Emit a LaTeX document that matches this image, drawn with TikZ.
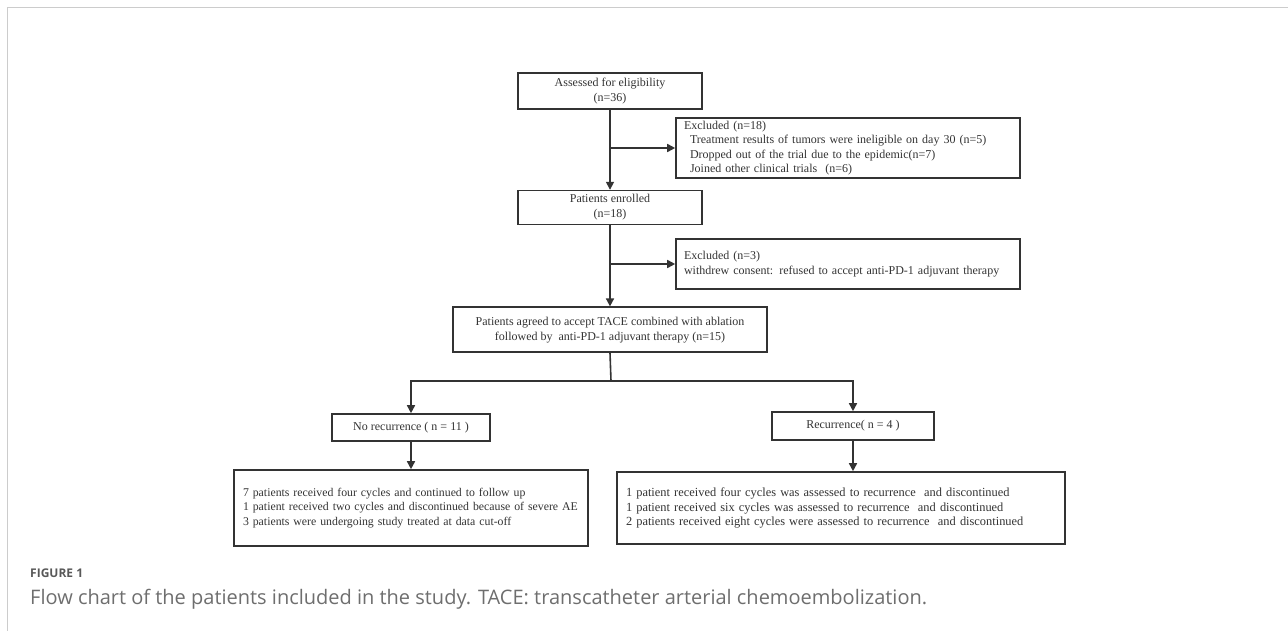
\documentclass[tikz,border=0pt]{standalone}
\usepackage{fontspec}
\setmainfont{Liberation Serif}
\newfontfamily\capfont{Open Sans}
\usetikzlibrary{positioning,arrows.meta}
\definecolor{ink}{HTML}{333333}
\definecolor{frame}{HTML}{CCCCCC}
\definecolor{captext}{HTML}{6E6E6E}

\begin{document}
\begin{tikzpicture}[x = 1pt, y = -1pt,
    box/.style = { draw = ink, line width = 1.6pt, text = ink, inner sep = 0pt,
      font = \fontsize{12}{15}\selectfont },
    sidebox/.style = { box, align = left, text width = 328pt },
    outbox/.style = { box, align = left },
    flow/.style = { draw = ink, line width = 1.6pt, -{Triangle[length = 8pt, width = 8pt]} }]
    \useasboundingbox (0,0) rectangle (1288,631);
    \draw[frame, line width = 1.5pt] (7.5,631) -- (7.5,7.5) -- (1288,7.5);

    \node[box, align = center, minimum width = 184pt, minimum height = 36pt] (assess) at (610,91)
      { Assessed for eligibility\\ (n=36) };
    \node[box, align = center, minimum width = 184pt, minimum height = 34pt, below = 80pt of assess] (enrol)
      { Patients enrolled\\ (n=18) };
    \node[box, align = center, minimum width = 314pt, minimum height = 45pt, below = 81pt of enrol] (agree)
      { Patients agreed to accept TACE combined with ablation\\ followed by\ \ anti-PD-1 adjuvant therapy (n=15) };

    \node[sidebox, minimum width = 344pt, minimum height = 60pt, font = \fontsize{12}{14.5}\selectfont] (excl1) at (848,148)
      { Excluded (n=18)\\
        \hspace*{6pt}Treatment results of tumors were ineligible on day 30 (n=5)\\
        \hspace*{6pt}Dropped out of the trial due to the epidemic(n=7)\\
        \hspace*{6pt}Joined other clinical trials\ \ (n=6) };
    \node[sidebox, minimum width = 344pt, minimum height = 50pt] (excl2) at (848,264)
      { Excluded (n=3)\\
        withdrew consent: refused to accept anti-PD-1 adjuvant therapy };

    \node[box, minimum width = 158pt, minimum height = 27pt] (norec) at (411,427.5) { No recurrence ( n = 11 ) };
    \node[box, minimum width = 162pt, minimum height = 28pt] (rec) at (853,426) { Recurrence( n = 4 ) };

    \node[outbox, text width = 336pt, minimum width = 354pt, minimum height = 76pt, font = \fontsize{11.8}{14.3}\selectfont] (out1) at (411,508)
      { 7 patients received four cycles and continued to follow up\\
        1 patient received two cycles and discontinued because of severe AE\\
        3 patients were undergoing study treated at data cut-off };
    \node[outbox, text width = 430pt, minimum width = 448pt, minimum height = 72pt, font = \fontsize{12.4}{14.5}\selectfont] (out2) at (841,508)
      { 1 patient received four cycles was assessed to recurrence\ \ and discontinued\\
        1 patient received six cycles was assessed to recurrence\ \ and discontinued\\
        2 patients received eight cycles were assessed to recurrence\ \ and discontinued };

    % connectors
    \draw[flow] (assess) -- (enrol);
    \draw[flow] (assess.south |- excl1.west) -- (excl1.west);
    \draw[flow] (enrol) -- (agree);
    \draw[flow] (enrol.south |- excl2.west) -- (excl2.west);
    \coordinate (split) at (611,381);
    \draw[draw = ink, line width = 1.6pt] (agree.south) -- (split);
    \draw[flow] (split) -| (norec.north);
    \draw[flow] (split) -| (rec.north);
    \draw[flow] (norec) -- (out1);
    \draw[flow] (rec.south) -- (rec.south |- out2.north);

    \node[anchor = base west, inner sep = 0pt, text = captext!80!black, font = \capfont\bfseries\fontsize{12}{14}\selectfont] (fig) at (30,577) {FIGURE 1};
    \node[anchor = base west, inner sep = 0pt, text = captext, font = \capfont\fontsize{20}{24}\selectfont] (caption) at (30,604)
      {Flow chart of the patients included in the study. TACE: transcatheter arterial chemoembolization.};
\end{tikzpicture}
\end{document}
